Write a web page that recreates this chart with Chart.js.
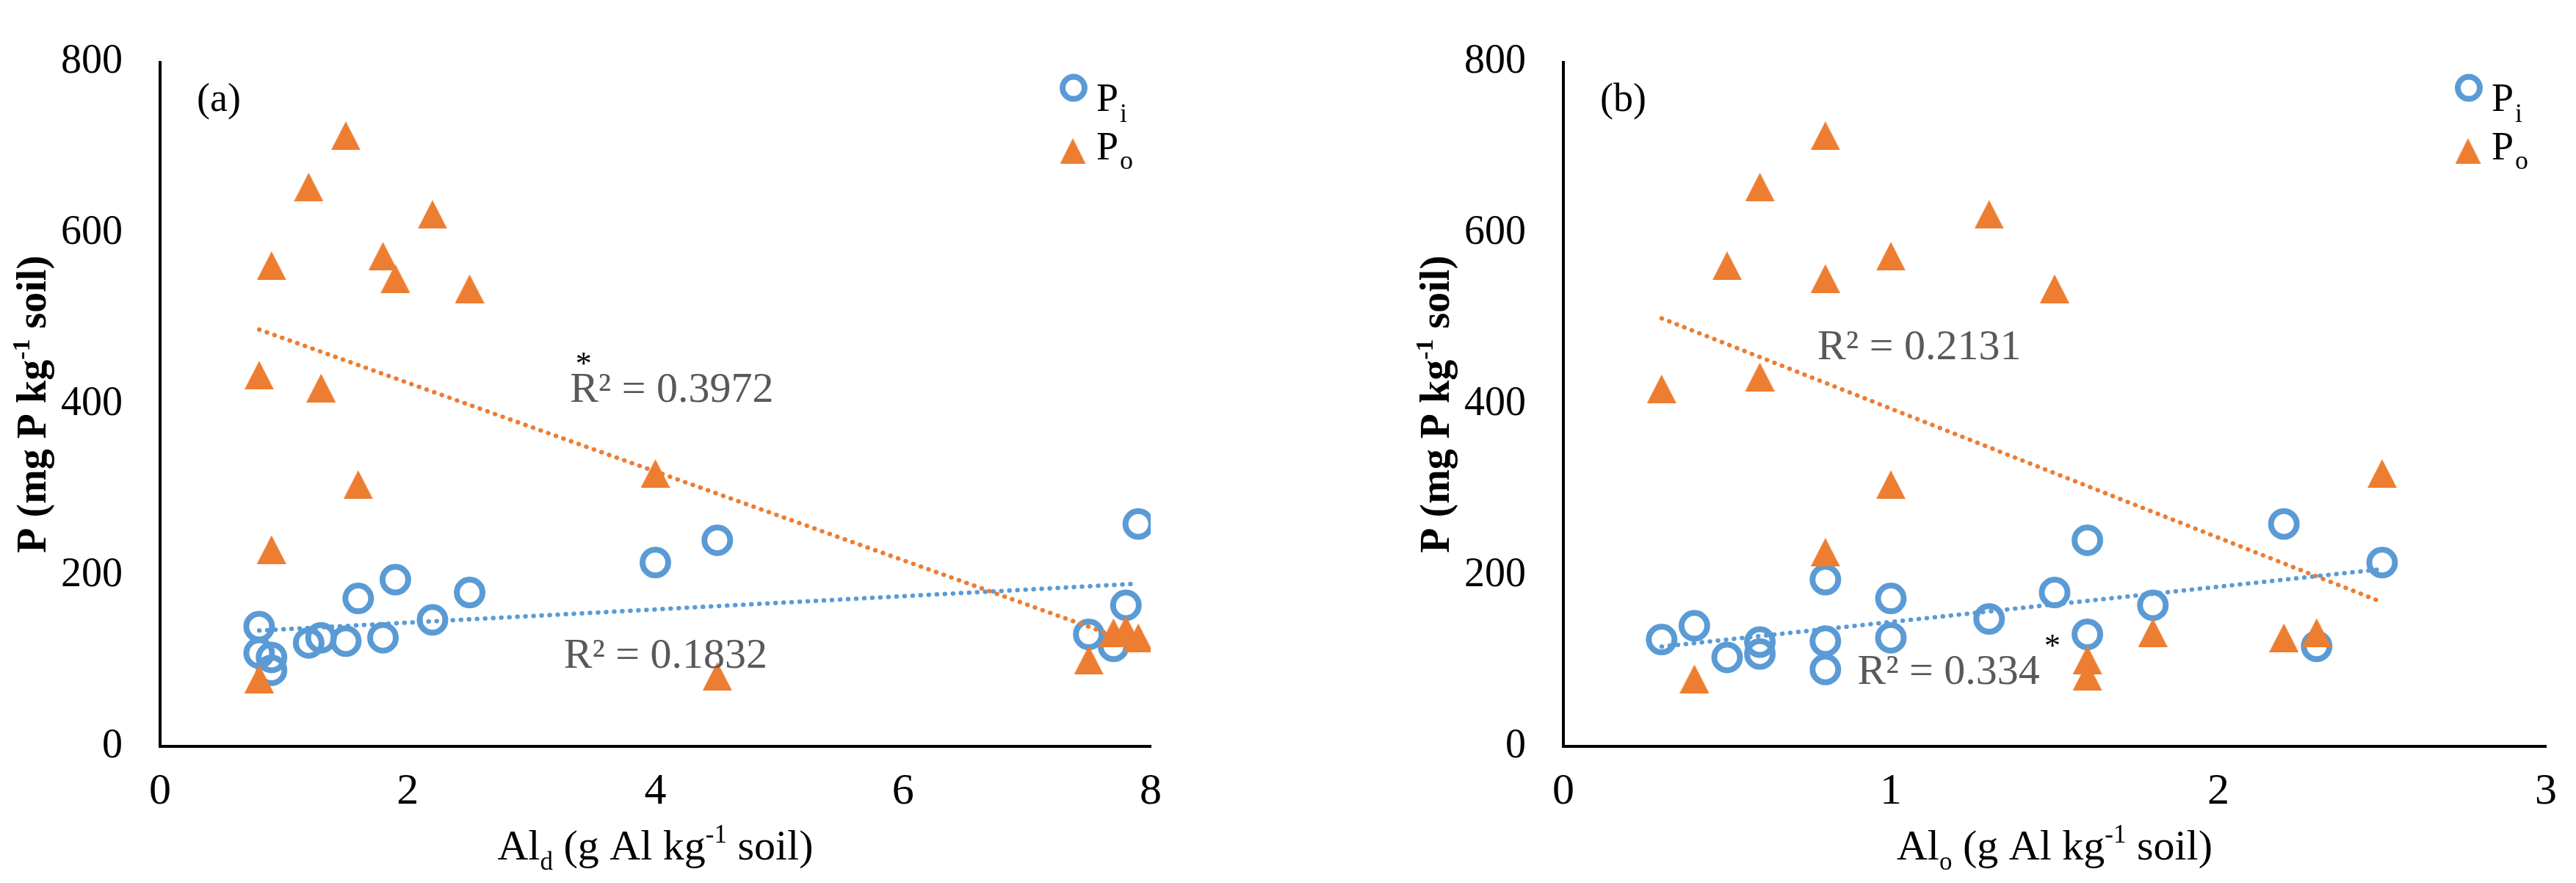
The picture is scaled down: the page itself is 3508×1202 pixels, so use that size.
<!DOCTYPE html>
<html><head><meta charset="utf-8">
<script src="https://cdn.jsdelivr.net/npm/chart.js@4.4.0/dist/chart.umd.min.js"></script>
<style>
html,body{margin:0;padding:0;background:#fff;overflow:hidden;}
#wrap{position:relative;width:3508px;height:1202px;background:#fff;}
canvas{position:absolute;top:0;}
#c1{left:0;} #c2{left:1754px;}
</style></head><body>
<div id="wrap"><canvas id="c1" width="1754" height="1202"></canvas><canvas id="c2" width="1754" height="1202"></canvas></div>
<script>
// ---------- data ----------
// (a) Ald vs P
const alD_Pi = [0.8, 0.8, 0.9, 0.9, 1.2, 1.3, 1.5, 1.6, 1.8, 1.9, 2.2, 2.5, 4.0, 4.5, 7.5, 7.7, 7.8, 7.9];
const Pi_a   = [140, 109, 104, 89, 121, 127, 123, 173, 127, 195, 148, 180, 215, 241, 131, 117, 165, 260];
const alD_Po = [1.5, 1.2, 2.2, 0.9, 1.8, 1.9, 2.5, 0.8, 1.3, 1.6, 0.9, 0.8, 4.0, 4.5, 7.5, 7.7, 7.8, 7.9];
const Po_a   = [714, 654, 622, 562, 573, 547, 535, 434, 419, 306, 230, 79, 319, 82, 101, 133, 136, 127];
// (b) Alo vs P
const alO_Pi = [0.3, 0.4, 0.5, 0.6, 0.6, 0.8, 0.8, 0.8, 1.0, 1.0, 1.3, 1.5, 1.6, 1.6, 1.8, 2.2, 2.3, 2.5];
const Pi_b   = [125, 141, 104, 122, 108, 195, 123, 90, 173, 127, 149, 180, 241, 131, 165, 260, 117, 215];
const alO_Po = [0.8, 0.6, 1.3, 0.5, 1.0, 0.8, 1.5, 0.3, 0.6, 1.0, 0.8, 0.4, 2.5, 1.6, 1.6, 1.8, 2.2, 2.3];
const Po_b   = [714, 654, 622, 562, 573, 547, 535, 418, 432, 306, 227, 79, 319, 101, 82, 133, 127, 133];
// ticks
const xTicksA = [0, 2, 4, 6, 8];
const xTicksB = [0, 1, 2, 3];
const yTicks  = [0, 200, 400, 600, 800];
// texts
const r2TextsA = ['R² = 0.1832', 'R² = 0.3972'];
const r2TextsB = ['R² = 0.334', 'R² = 0.2131'];
const panelA = '(a)', panelB = '(b)';

// ---------- styles / layout ----------
const BLUE = '#5B9BD5', ORANGE = '#ED7D31', GREY = '#595959';
const FONT = '"Liberation Serif", "Times New Roman", serif';

function pts(xs, ys){ return xs.map((x,i)=>({x:x, y:ys[i]})); }
function fit(xs, ys){
  const n = xs.length;
  const mx = xs.reduce((a,b)=>a+b,0)/n, my = ys.reduce((a,b)=>a+b,0)/n;
  let sxy = 0, sxx = 0;
  for (let i=0;i<n;i++){ sxy += (xs[i]-mx)*(ys[i]-my); sxx += (xs[i]-mx)*(xs[i]-mx); }
  const b = sxy/sxx, a = my - b*mx;
  const x0 = Math.min(...xs), x1 = Math.max(...xs);
  return [{x:x0, y:a+b*x0}, {x:x1, y:a+b*x1}];
}
function triImg(w, h, color){
  const c = document.createElement('canvas'); c.width = w; c.height = h;
  const g = c.getContext('2d'); g.fillStyle = color;
  g.beginPath(); g.moveTo(w/2, 0); g.lineTo(w, h); g.lineTo(0, h); g.closePath(); g.fill();
  return c;
}
const TRI = triImg(40, 39, ORANGE);

function drawRich(ctx, parts, x, y, size, weight, align, color){
  const fnt = k => `${weight} ${k ? Math.round(size*0.6) : size}px ${FONT}`;
  const widths = parts.map(p => { ctx.font = fnt(p[1]); return ctx.measureText(p[0]).width; });
  const total = widths.reduce((a,b)=>a+b,0);
  let cx = align === 'center' ? x - total/2 : x;
  ctx.textAlign = 'left'; ctx.textBaseline = 'alphabetic'; ctx.fillStyle = color || '#000';
  parts.forEach((p,i) => {
    ctx.font = fnt(p[1]);
    const dy = p[1] === 1 ? -size*0.40 : (p[1] === -1 ? size*0.24 : 0);
    ctx.fillText(p[0], cx, y + dy);
    cx += widths[i];
  });
}

function overlay(cfg){
  return {
    id: 'overlay',
    afterDatasetsDraw(chart){
      const ctx = chart.ctx, ca = chart.chartArea;
      const xs = chart.scales.x, ys = chart.scales.y;
      ctx.save();
      // panel label
      ctx.font = `54px ${FONT}`; ctx.fillStyle = '#000'; ctx.textAlign = 'left'; ctx.textBaseline = 'alphabetic';
      ctx.fillText(cfg.panel, ca.left + 50, ca.top + 66);
      // y title
      ctx.save();
      ctx.translate(ca.left - 156, (ca.top + ca.bottom)/2);
      ctx.rotate(-Math.PI/2);
      drawRich(ctx, [['P (mg P kg',0],['-1',1],[' soil)',0]], 0, 0, 56, 'bold', 'center');
      ctx.restore();
      // x title
      drawRich(ctx, [['Al',0],[cfg.sub,-1],[' (g Al kg',0],['-1',1],[' soil)',0]], (ca.left+ca.right)/2, ca.bottom + 154, 58, 'normal', 'center');
      // legend
      const R = ca.right;
      ctx.beginPath(); ctx.lineWidth = 8; ctx.strokeStyle = BLUE;
      ctx.arc(R - 105, ca.top + 35, 15, 0, Math.PI*2); ctx.stroke();
      ctx.drawImage(triImg(35, 35, ORANGE), R - 106 - 17.5, ca.top + 121 - 17.5);
      drawRich(ctx, [['P',0]], R - 74, ca.top + 66, 54, 'normal', 'left');
      ctx.font = `36px ${FONT}`; ctx.fillText('i', R - 74 + 32, ca.top + 81);
      drawRich(ctx, [['P',0]], R - 74, ca.top + 132, 54, 'normal', 'left');
      ctx.font = `36px ${FONT}`; ctx.fillText('o', R - 74 + 32, ca.top + 145);
      // R² labels
      ctx.font = `58px ${FONT}`; ctx.fillStyle = GREY; ctx.textAlign = 'left'; ctx.textBaseline = 'alphabetic';
      cfg.r2.forEach(l => ctx.fillText(l.t, xs.getPixelForValue(l.x), ys.getPixelForValue(l.y)));
      // significance star
      ctx.font = `44px ${FONT}`; ctx.fillStyle = '#000'; ctx.textAlign = 'center';
      ctx.fillText('*', xs.getPixelForValue(cfg.star.x), ys.getPixelForValue(cfg.star.y) + 22);
      ctx.restore();
    }
  };
}

function makeChart(id, o){
  return new Chart(document.getElementById(id), {
    type: 'scatter',
    data: { datasets: [
      { label: 'Pi trend', type: 'line', data: fit(o.xPi, o.yPi), borderColor: BLUE, borderWidth: 6,
        borderDash: [0.5, 10.5], borderCapStyle: 'round', pointRadius: 0, fill: false, order: 0 },
      { label: 'Po trend', type: 'line', data: fit(o.xPo, o.yPo), borderColor: ORANGE, borderWidth: 6,
        borderDash: [0.5, 10.5], borderCapStyle: 'round', pointRadius: 0, fill: false, order: 0 },
      { label: 'Pi', data: pts(o.xPi, o.yPi), pointStyle: 'circle', pointRadius: 17.5, borderWidth: 8,
        borderColor: BLUE, backgroundColor: 'rgba(0,0,0,0)', order: 2 },
      { label: 'Po', data: pts(o.xPo, o.yPo), pointStyle: TRI, pointRadius: 20, order: 1 }
    ]},
    options: {
      responsive: false, animation: false, devicePixelRatio: 1, events: [],
      layout: { padding: { left: 0, top: 46, right: o.padRight, bottom: 0 } },
      plugins: { legend: { display: false }, tooltip: { enabled: false } },
      scales: {
        x: { type: 'linear', min: 0, max: o.xTicks[o.xTicks.length-1],
          afterBuildTicks: s => { s.ticks = o.xTicks.map(v => ({value: v})); },
          afterFit: s => { s.height = 186; },
          ticks: { font: { family: FONT, size: 60 }, color: '#000', padding: 26, maxRotation: 0, autoSkip: false },
          grid: { display: false, drawTicks: false },
          border: { display: true, color: '#000', width: 4 } },
        y: { type: 'linear', min: 0, max: 800,
          afterBuildTicks: s => { s.ticks = yTicks.map(v => ({value: v})); },
          afterFit: s => { s.width = o.leftW; },
          ticks: { font: { family: FONT, size: 56 }, color: '#000', padding: 51, autoSkip: false },
          grid: { display: false, drawTicks: false },
          border: { display: true, color: '#000', width: 4 } }
      }
    },
    plugins: [overlay(o)]
  });
}

makeChart('c1', { xPi: alD_Pi, yPi: Pi_a, xPo: alD_Po, yPo: Po_a, xTicks: xTicksA,
  leftW: 218, padRight: 187, panel: panelA, sub: 'd',
  r2: [{t: r2TextsA[0], x: 3.26, y: 91.5}, {t: r2TextsA[1], x: 3.31, y: 402.5}],
  star: {x: 3.42, y: 454} });
makeChart('c2', { xPi: alO_Pi, yPi: Pi_b, xPo: alO_Po, yPo: Po_b, xTicks: xTicksB,
  leftW: 375, padRight: 33, panel: panelB, sub: 'o',
  r2: [{t: r2TextsB[0], x: 0.898, y: 72.6}, {t: r2TextsB[1], x: 0.776, y: 452.8}],
  star: {x: 1.493, y: 124.5} });
</script>
</body></html>
